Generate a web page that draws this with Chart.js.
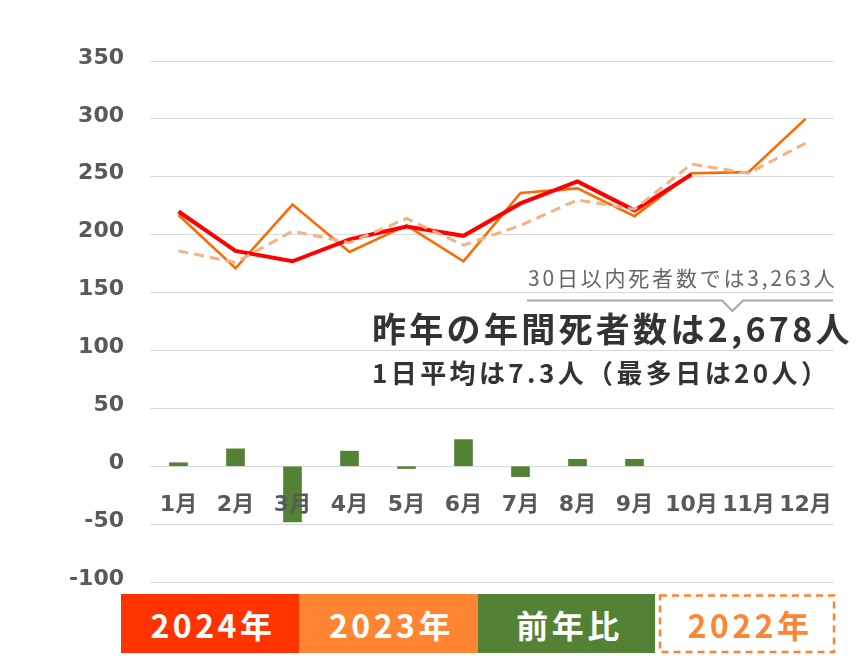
<!DOCTYPE html>
<html>
<head>
<meta charset="utf-8">
<script src="https://cdn.jsdelivr.net/npm/chart.js@4.4.1/dist/chart.umd.min.js"></script>
<style>
  html, body { margin: 0; padding: 0; background: #fff; }
  #wrap { position: relative; width: 860px; height: 670px; overflow: hidden; }
  #c { position: absolute; left: 0; top: 0; }
  .t { position: absolute; white-space: nowrap; font-family: "Noto Sans CJK JP", "Noto Sans", sans-serif; }
  .leg { position: absolute; top: 594px; height: 59px; display: flex; align-items: center; justify-content: center;
         font-family: "Noto Sans CJK JP", sans-serif; font-weight: 700; font-size: 32px; letter-spacing: 3.5px; color: #fff;
         box-sizing: border-box; padding-left: 6px; }
</style>
</head>
<body>
<div id="wrap">
  <canvas id="c" width="860" height="670"></canvas>

  <div class="t" id="note30" style="left:528px; top:264px; font-size:21px; line-height:26px; letter-spacing:2.8px; color:#666;">30日以内死者数では3,263人</div>
  <svg style="position:absolute; left:0; top:0;" width="860" height="670">
    <polyline points="527,300.5 722,300.5 732.5,311 743,300.5 833,300.5" fill="none" stroke="#a6a6a6" stroke-width="2"/>
  </svg>
  <div class="t" id="big" style="left:372px; top:308px; font-size:34px; line-height:40px; letter-spacing:3.3px; font-weight:700; color:#333;">昨年の年間死者数は2,678人</div>
  <div class="t" id="avg" style="left:372px; top:357px; font-size:26px; line-height:30px; letter-spacing:3.4px; font-weight:700; color:#333;">1日平均は7.3人（最多日は20人）</div>

  <div class="leg" style="left:121px; width:178px; background:#FF3300;">2024年</div>
  <div class="leg" style="left:299px; width:179px; background:#FF8533;">2023年</div>
  <div class="leg" style="left:478px; width:177px; background:#548235;">前年比</div>
  <svg style="position:absolute; left:0; top:0;" width="860" height="670">
    <rect x="660" y="595.5" width="174" height="56.5" fill="none" stroke="#FF8533" stroke-width="2.5" stroke-dasharray="7 5"/>
  </svg>
  <div class="leg" style="left:659px; width:176px; color:#FF8533;">2022年</div>
</div>

<script>
const months = ['1月','2月','3月','4月','5月','6月','7月','8月','9月','10月','11月','12月'];
const deaths2024 = [220, 186, 177, 196, 207, 199, 227, 246, 221, 252, null, null];
const deaths2023 = [217, 171, 226, 185, 208, 177, 236, 240, 216, 253, 254, 300];
const deaths2022 = [186, 176, 203, 193, 214, 191, 208, 230, 222, 261, 253, 279];
const diffPrevYear = [3, 15, -48, 13, -2, 23, -9, 6, 6, null, null, null];
const yTicks = [350, 300, 250, 200, 150, 100, 50, 0, -50, -100];

const monthLabels = {
  id: 'monthLabels',
  afterDatasetsDraw(chart) {
    const ctx = chart.ctx;
    const xs = chart.scales.x;
    const ys = chart.scales.y;
    ctx.save();
    ctx.font = 'bold 22px "DejaVu Sans", "Noto Sans CJK JP", sans-serif';
    ctx.fillStyle = '#595959';
    ctx.textAlign = 'center';
    ctx.textBaseline = 'middle';
    const yPos = ys.getPixelForValue(0) + 39;
    months.forEach((m, i) => ctx.fillText(m, xs.getPixelForValue(i), yPos));
    ctx.restore();
  }
};

new Chart(document.getElementById('c'), {
  type: 'bar',
  data: {
    labels: months,
    datasets: [
      { type: 'line', label: '2022年', data: deaths2022, borderColor: '#F4B183', borderWidth: 3,
        borderDash: [10, 6], pointRadius: 0, tension: 0, fill: false, order: 0 },
      { type: 'line', label: '2024年', data: deaths2024, borderColor: '#FF0000', borderWidth: 4,
        pointRadius: 0, tension: 0, fill: false, order: 1 },
      { type: 'line', label: '2023年', data: deaths2023, borderColor: '#FF6A00', borderWidth: 2.6,
        pointRadius: 0, tension: 0, fill: false, order: 2 },
      { type: 'bar', label: '前年比', data: diffPrevYear, backgroundColor: '#548235',
        barThickness: 18, order: 3 }
    ]
  },
  options: {
    responsive: false,
    animation: false,
    devicePixelRatio: 1,
    layout: { padding: { top: 61, bottom: 88, left: 0, right: 26 } },
    plugins: { legend: { display: false }, tooltip: { enabled: false } },
    scales: {
      x: { display: false },
      y: {
        min: -100, max: 350,
        afterFit(s) { s.width = 150; },
        afterBuildTicks(s) { s.ticks = yTicks.map(v => ({ value: v })); },
        grid: { color: '#d9d9d9', lineWidth: 1, drawTicks: false },
        border: { display: false },
        ticks: { padding: 26, labelOffset: -3, color: '#595959',
                 font: { family: '"DejaVu Sans", sans-serif', size: 22, weight: 'bold' } }
      }
    }
  },
  plugins: [monthLabels]
});
</script>
</body>
</html>
